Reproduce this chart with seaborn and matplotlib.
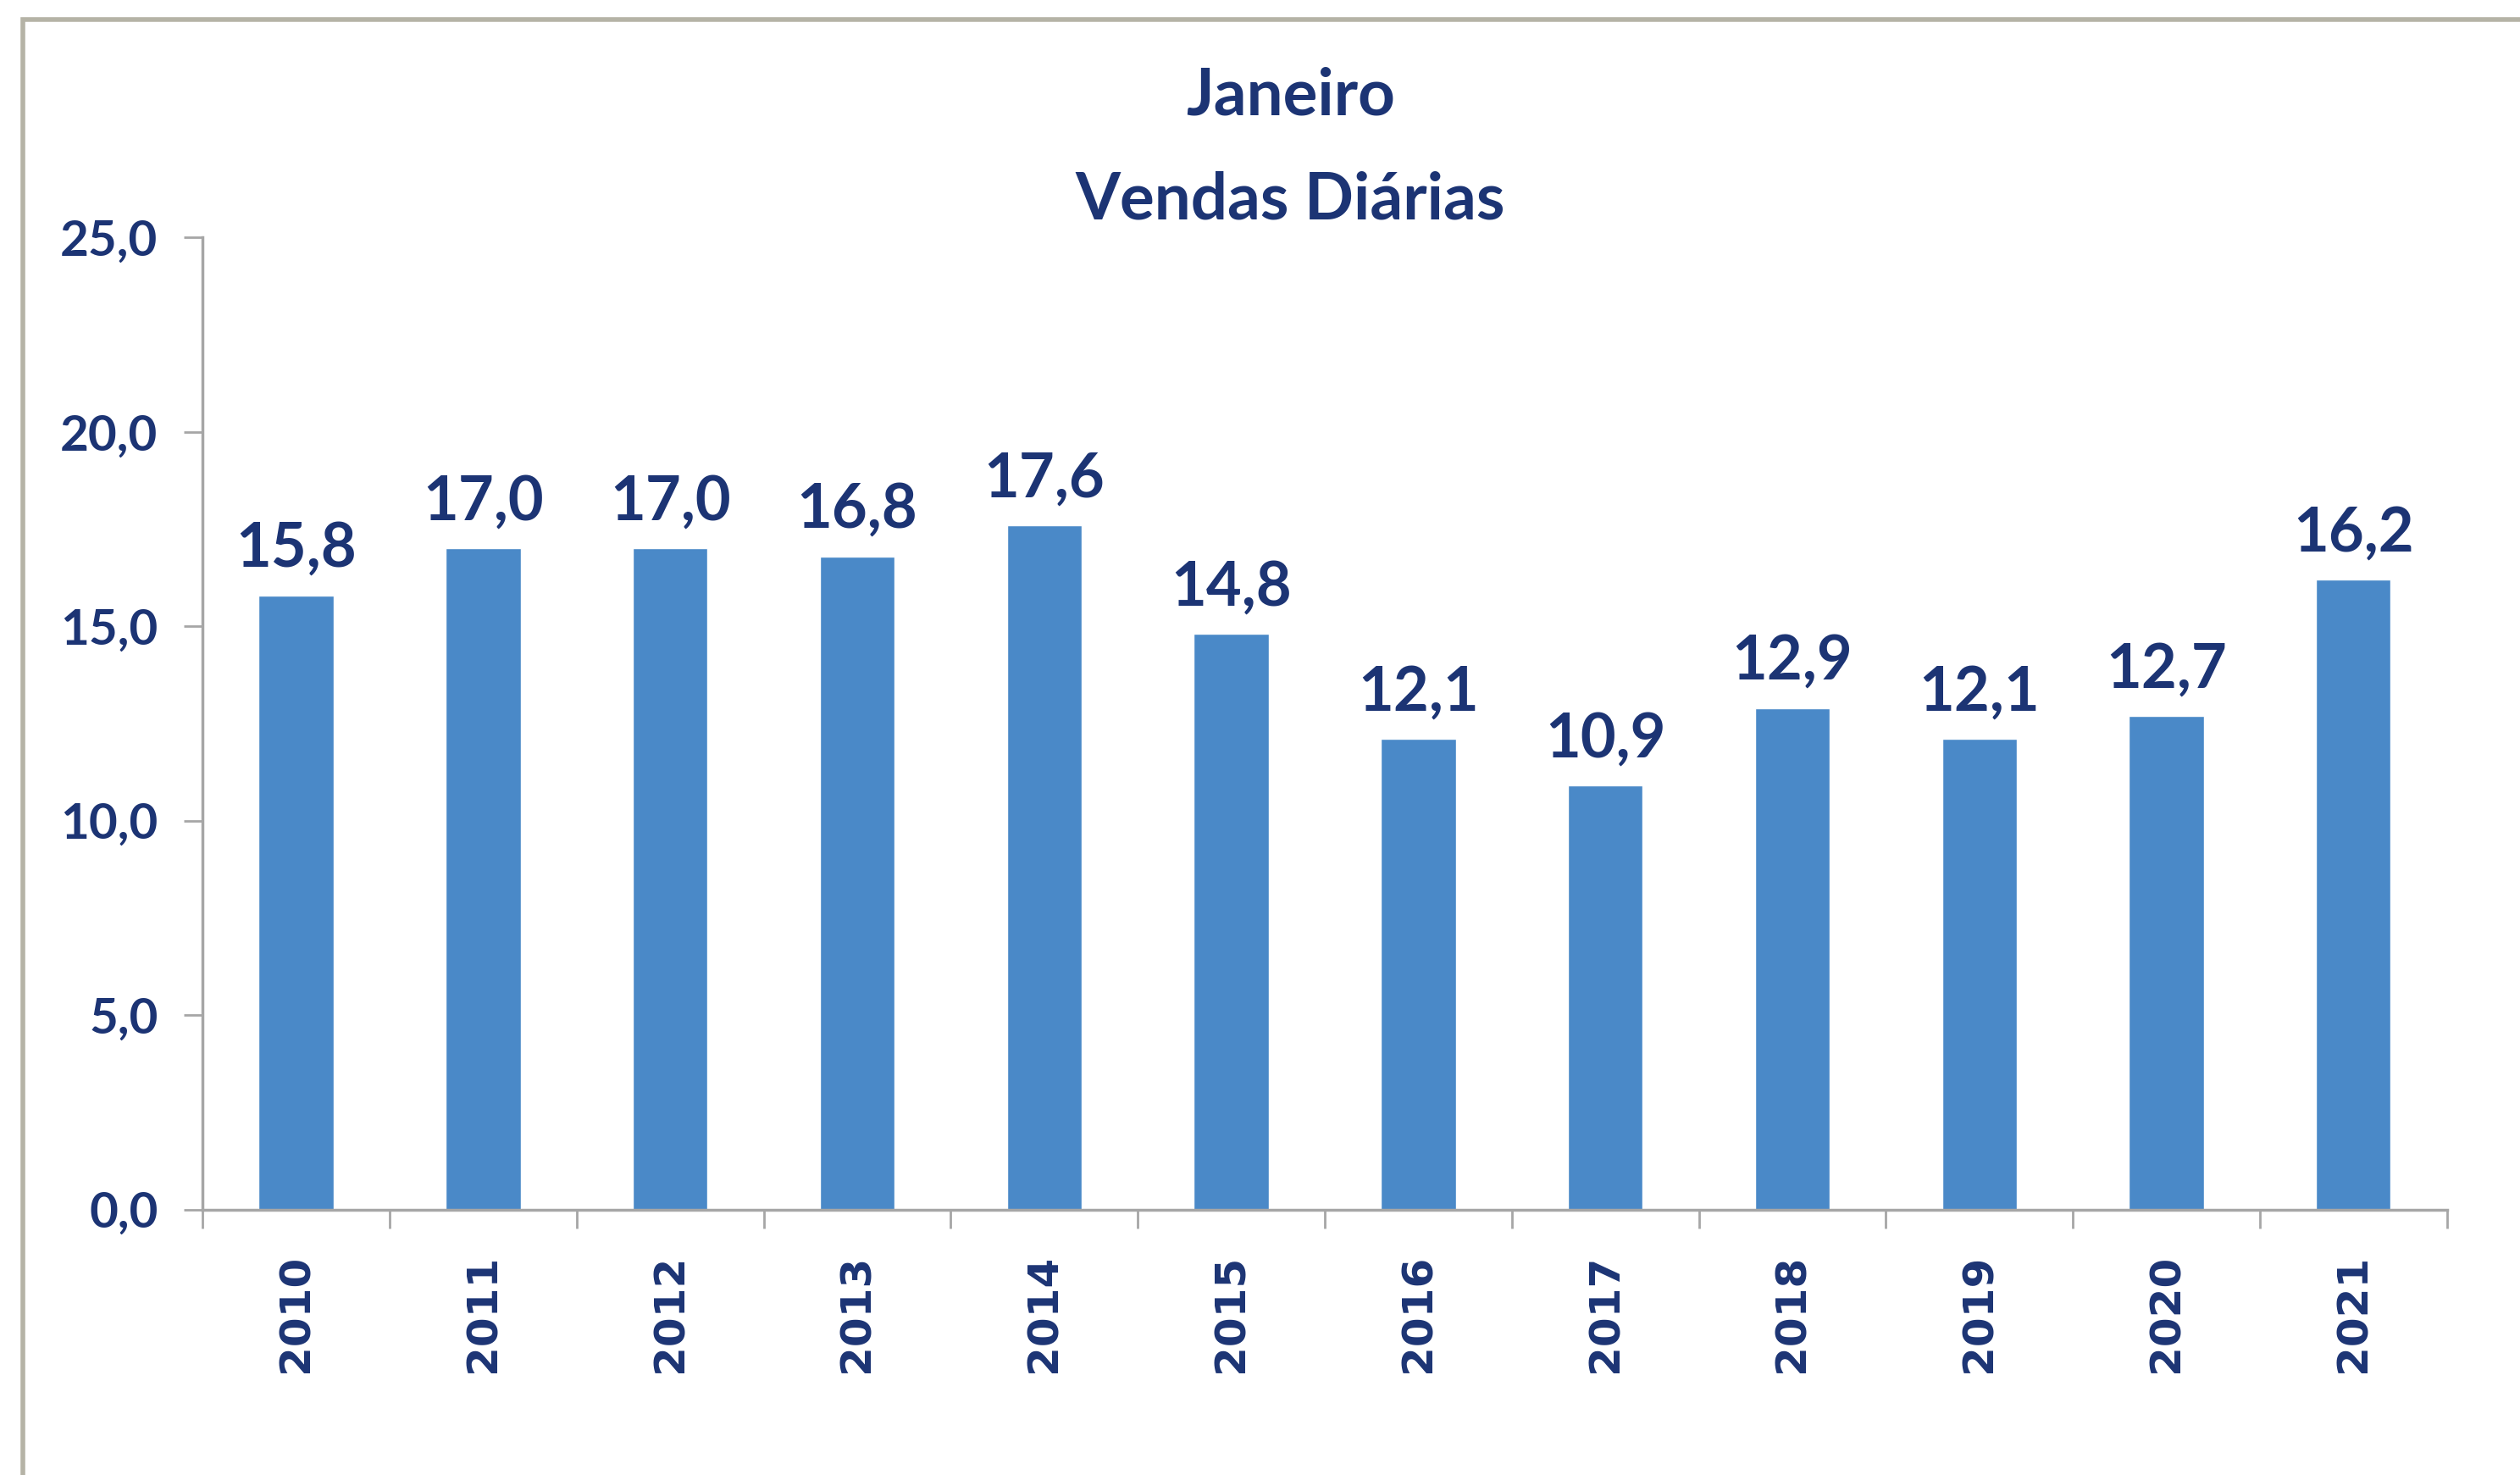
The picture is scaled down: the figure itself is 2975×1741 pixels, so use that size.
import matplotlib.pyplot as plt
import matplotlib.patches as mpatches
import numpy as np
import pandas as pd
import seaborn as sns

anos = ["2010", "2011", "2012", "2013", "2014", "2015",
        "2016", "2017", "2018", "2019", "2020", "2021"]
vendas = [15.8, 17.0, 17.0, 16.8, 17.6, 14.8, 12.1, 10.9, 12.9, 12.1, 12.7, 16.2]
yticks = [0, 5, 10, 15, 20, 25]

navy = "#1c3474"
bar_color = "#4a89c8"
axis_gray = "#a6a6a6"

df = pd.DataFrame({"ano": anos, "vendas": vendas})

sns.set_theme(style="white")
plt.rcParams["font.family"] = ["Lato", "DejaVu Sans"]

fig = plt.figure(figsize=(29.75, 17.41), dpi=100)
ax = fig.add_axes([0.0804, 0.180, 0.8906, 0.659])

sns.barplot(data=df, x="ano", y="vendas", color=bar_color, width=0.40,
            saturation=1, ax=ax)

for i, v in enumerate(vendas):
    ax.text(i, v + 0.45, f"{v:.1f}".replace(".", ","), ha="center", va="bottom",
            fontsize=52, fontweight="bold", color=navy)

ax.set_ylim(0, 25)
ax.set_xlim(-0.5, len(anos) - 0.5)
ax.set_yticks(yticks)
ax.set_yticklabels([f"{t:.1f}".replace(".", ",") for t in yticks],
                   fontsize=42, fontweight="bold", color=navy)
ax.set_xticks(range(len(anos)))
ax.set_xticklabels(anos, rotation=90, fontsize=36, fontweight="bold", color=navy)
for lbl in ax.get_xticklabels():
    lbl.set_fontfamily("DejaVu Sans")
ax.set_xticks(np.arange(-0.5, len(anos), 1.0), minor=True)
ax.tick_params(axis="x", which="major", length=0, pad=38)
ax.tick_params(axis="x", which="minor", length=16, width=2, color=axis_gray,
               direction="out", bottom=True)
ax.tick_params(axis="y", length=16, width=2, color=axis_gray, direction="out",
               left=True, pad=22)
ax.set_xlabel(None)
ax.set_ylabel(None)

for s in ["top", "right"]:
    ax.spines[s].set_visible(False)
for s in ["left", "bottom"]:
    ax.spines[s].set_color(axis_gray)
    ax.spines[s].set_linewidth(2.5)

fig.text(0.512, 0.935, "Janeiro", ha="center", va="center", fontsize=55,
         fontweight="bold", color=navy)
fig.text(0.512, 0.864, "Vendas Diárias", ha="center", va="center", fontsize=55,
         fontweight="bold", color=navy)

# moldura do gráfico (cortada à direita e em baixo)
fig.add_artist(mpatches.Rectangle((0.009, -0.05), 1.2, 1.037,
                                  transform=fig.transFigure, fill=False,
                                  edgecolor="#b5b3a6", linewidth=4))

fig.savefig("out.png", dpi=100)
